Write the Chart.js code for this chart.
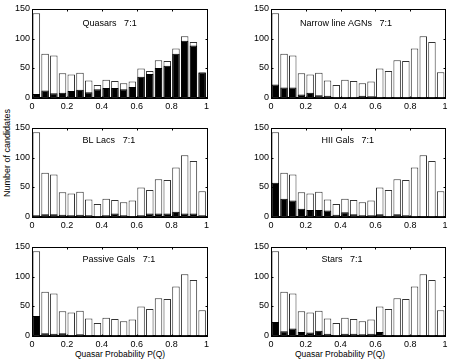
<!DOCTYPE html>
<html>
<head>
<meta charset="utf-8">
<script src="https://cdn.jsdelivr.net/npm/chart.js@4.4.0/dist/chart.umd.min.js"></script>
<style>
  body { margin: 0; background: #fff; width: 452px; height: 360px; position: relative; overflow: hidden;
         font-family: 'Liberation Sans', Arial, sans-serif; }
  canvas { position: absolute; }
  .lbl { position: absolute; font-size: 9px; color: #000; white-space: nowrap; }
  .xl { font-size: 8.5px; }
</style>
</head>
<body>
<div class="lbl" style="left:7px; top:153px; transform: translate(-50%,-50%) rotate(-90deg);">Number of candidates</div>
<div class="lbl xl" style="left:120px; top:354px; transform: translate(-50%,-50%);">Quasar Probability P(Q)</div>
<div class="lbl xl" style="left:340px; top:354px; transform: translate(-50%,-50%);">Quasar Probability P(Q)</div>
<script>
// bin centres of P(Q), 20 bins of 0.05
const binCenters = [0.025, 0.075, 0.125, 0.175, 0.225, 0.275, 0.325, 0.375, 0.425, 0.475,
                    0.525, 0.575, 0.625, 0.675, 0.725, 0.775, 0.825, 0.875, 0.925, 0.975];

// all candidates (white bars, same in every panel)
const total = [143, 74, 71, 41, 39, 42, 29, 21, 30, 28, 24, 27, 49, 45, 63, 62, 83, 104, 94, 43];

// candidates of each class (black bars)
const quasars        = [6, 12, 7, 8, 11, 13, 9, 14, 16, 16, 14, 18, 35, 40, 50, 54, 74, 96, 88, 42];
const narrowLineAgns = [22, 17, 17, 5, 8, 4, 3, 1, 0, 0, 3, 2, 0, 0, 0, 0, 1, 0, 0, 0];
const blLacs         = [2, 4, 4, 3, 2, 3, 2, 1, 2, 5, 2, 1, 2, 5, 5, 5, 8, 5, 5, 2];
const hiiGals        = [57, 30, 27, 13, 11, 11, 10, 3, 7, 4, 2, 2, 4, 0, 4, 2, 0, 1, 0, 0];
const passiveGals    = [33, 4, 3, 4, 1, 2, 1, 0, 1, 0, 0, 0, 0, 0, 1, 1, 0, 0, 0, 0];
const stars          = [23, 7, 12, 6, 5, 8, 3, 1, 3, 3, 2, 3, 6, 0, 1, 1, 0, 1, 1, 0];

const titles = ['Quasars   7:1', 'Narrow line AGNs   7:1', 'BL Lacs   7:1',
                'HII Gals   7:1', 'Passive Gals   7:1', 'Stars   7:1'];
const classes = [quasars, narrowLineAgns, blLacs, hiiGals, passiveGals, stars];

Chart.defaults.font.family = "'Liberation Sans', Arial, sans-serif";
Chart.defaults.font.size = 9;
Chart.defaults.color = '#000';

// matlab style box with inward ticks + panel title
const boxPlugin = {
  id: 'box',
  afterDraw(chart) {
    const { ctx, chartArea: a, scales: { x, y } } = chart;
    const o = chart.options.plugins.box;
    ctx.save();
    ctx.strokeStyle = '#000';
    ctx.lineWidth = 1;
    const l = Math.round(a.left) + 0.5, r = Math.round(a.right) + 0.5;
    const t = Math.round(a.top) + 0.5, b = Math.round(a.bottom) + 0.5;
    ctx.strokeRect(l, t, r - l, b - t);
    ctx.beginPath();
    x.ticks.forEach(tk => {
      const px = Math.round(x.getPixelForValue(tk.value)) + 0.5;
      ctx.moveTo(px, t); ctx.lineTo(px, t + 2);
      ctx.moveTo(px, b); ctx.lineTo(px, b - 2);
    });
    y.ticks.forEach(tk => {
      const py = Math.round(y.getPixelForValue(tk.value)) + 0.5;
      ctx.moveTo(l, py); ctx.lineTo(l + 2, py);
      ctx.moveTo(r, py); ctx.lineTo(r - 2, py);
    });
    ctx.stroke();
    ctx.fillStyle = '#000';
    ctx.font = "9px 'Liberation Sans', Arial, sans-serif";
    ctx.textAlign = 'left';
    ctx.textBaseline = 'middle';
    ctx.fillText(o.title, a.left + o.tx * (a.right - a.left), a.top + o.ty);
    ctx.restore();
  }
};

const rowTops = [8.5, 128, 246.5];
const plotH = 88.5;
const titleY = [15, 12.5, 12.5];
const titleX = [0.29, 0.167, 0.29, 0.29, 0.29, 0.29];

classes.forEach((sub, i) => {
  const col = i % 2, row = Math.floor(i / 2);
  const yw = col === 0 ? 32 : 45;
  const padR = col === 0 ? 19.5 : 7;
  const xh = 22.5;
  const cv = document.createElement('canvas');
  cv.width = 226;
  cv.height = 8 + plotH + xh;
  cv.style.left = (col * 226) + 'px';
  cv.style.top = (rowTops[row] - 8) + 'px';
  document.body.appendChild(cv);

  new Chart(cv, {
    type: 'bar',
    data: {
      datasets: [
        {
          data: sub.map((v, k) => ({ x: binCenters[k], y: v })),
          backgroundColor: '#000', borderColor: '#000', borderWidth: 1,
          order: 1, grouped: false, barPercentage: 0.86, categoryPercentage: 1
        },
        {
          data: total.map((v, k) => ({ x: binCenters[k], y: v })),
          backgroundColor: '#fff', borderColor: '#333', borderWidth: 1,
          order: 2, grouped: false, barPercentage: 0.86, categoryPercentage: 1
        }
      ]
    },
    options: {
      responsive: false,
      animation: false,
      events: [],
      layout: { padding: { top: 8, right: padR, left: 0, bottom: 0 } },
      plugins: {
        legend: { display: false },
        tooltip: { enabled: false },
        box: { title: titles[i], tx: titleX[i], ty: titleY[row] }
      },
      scales: {
        x: {
          type: 'linear', min: 0, max: 1, offset: false,
          ticks: { stepSize: 0.2, padding: 4, maxRotation: 0, autoSkip: false,
                   callback: v => String(Math.round(v * 10) / 10) },
          grid: { display: false, drawTicks: false },
          border: { color: '#000' },
          afterFit: s => { s.height = xh; }
        },
        y: {
          min: 0, max: 150,
          ticks: { stepSize: 50, padding: 2 },
          grid: { display: false, drawTicks: false },
          border: { color: '#000' },
          afterFit: s => { s.width = yw; }
        }
      }
    },
    plugins: [boxPlugin]
  });
});
</script>
</body>
</html>
